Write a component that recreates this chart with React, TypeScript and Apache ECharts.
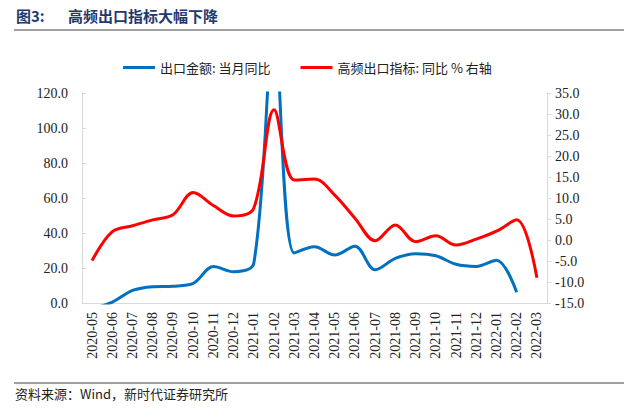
import React, { useEffect, useRef } from "react";
import * as echarts from "echarts";

const categories = [
  "2020-05", "2020-06", "2020-07", "2020-08", "2020-09", "2020-10", "2020-11", "2020-12",
  "2021-01", "2021-02", "2021-03", "2021-04", "2021-05", "2021-06", "2021-07", "2021-08",
  "2021-09", "2021-10", "2021-11", "2021-12", "2022-01", "2022-02", "2022-03",
];

const exportYoY: (number | null)[] = [
  -3.3, 0.5, 7.2, 9.3, 9.6, 11.2, 20.8, 17.9, 22.8, 154.9, 28.6, 32.2, 27.4, 32.4, 19.0,
  25.5, 28.2, 27.0, 22.1, 20.9, 24.5, 6.1, null,
];

const highFreqYoY = [
  -4.9, 2.0, 3.4, 4.8, 6.0, 11.3, 8.2, 5.7, 7.6, 31.0, 14.3, 14.5, 10.7, 5.2, -0.2, 3.6,
  -0.4, 1.0, -1.2, 0.2, 2.1, 4.8, -9.0,
];

const leftTicks = { min: 0, max: 120, interval: 20 };
const rightTicks = { min: -15, max: 35, interval: 5 };

const seriesNames = ["出口金额: 当月同比", "高频出口指标: 同比 % 右轴"];

export default function App() {
  const ref = useRef<HTMLDivElement>(null);
  useEffect(() => {
    if (!ref.current) return;
    const chart = echarts.init(ref.current, null, { renderer: "svg" });
    const serif = "Liberation Serif";
    chart.setOption({
      animation: false,
      backgroundColor: "#ffffff",
      graphic: [
        {
          type: "text",
          left: 16,
          top: 8,
          style: {
            text: "图3:",
            font: "bold 15px 'Noto Sans CJK SC', sans-serif",
            fill: "#1f3a6e",
          },
        },
        {
          type: "text",
          left: 68,
          top: 8,
          style: {
            text: "高频出口指标大幅下降",
            font: "bold 15px 'Noto Sans CJK SC', sans-serif",
            fill: "#1f3a6e",
          },
        },
        {
          type: "line",
          shape: { x1: 14, y1: 30, x2: 624, y2: 30 },
          style: { stroke: "#808080", lineWidth: 1.5 },
        },
        {
          type: "line",
          shape: { x1: 14, y1: 383, x2: 624, y2: 383 },
          style: { stroke: "#808080", lineWidth: 1.5 },
        },
        {
          type: "text",
          left: 15,
          top: 387,
          style: {
            text: "资料来源：Wind，新时代证券研究所",
            font: "13px 'Noto Sans CJK SC', sans-serif",
            fill: "#222",
          },
        },
      ],
      legend: {
        top: 56,
        left: 118,
        itemWidth: 32,
        itemHeight: 3,
        itemGap: 30,
        icon: "rect",
        textStyle: { fontFamily: "Noto Sans CJK SC", fontSize: 13, color: "#222" },
        data: seriesNames,
      },
      grid: { left: 82, right: 77, top: 93, bottom: 114, containLabel: false },
      xAxis: {
        type: "category",
        data: categories,
        boundaryGap: true,
        axisLine: { lineStyle: { color: "#d9d9d9" } },
        axisTick: { show: false },
        axisLabel: {
          rotate: 90,
          interval: 0,
          fontFamily: serif,
          fontSize: 14,
          color: "#222",
          margin: 9,
        },
      },
      yAxis: [
        {
          type: "value",
          min: leftTicks.min,
          max: leftTicks.max,
          interval: leftTicks.interval,
          axisLine: { show: true, lineStyle: { color: "#d9d9d9" } },
          axisTick: { show: true, inside: true, length: 4, lineStyle: { color: "#d9d9d9" } },
          splitLine: { show: false },
          axisLabel: {
            formatter: (v: number) => v.toFixed(1),
            fontFamily: serif,
            fontSize: 14,
            color: "#222",
            margin: 14,
          },
        },
        {
          type: "value",
          min: rightTicks.min,
          max: rightTicks.max,
          interval: rightTicks.interval,
          position: "right",
          axisLine: { show: true, lineStyle: { color: "#d9d9d9" } },
          axisTick: { show: true, length: 4, lineStyle: { color: "#d9d9d9" } },
          splitLine: { show: false },
          axisLabel: {
            formatter: (v: number) => v.toFixed(1),
            fontFamily: serif,
            fontSize: 14,
            color: "#222",
            margin: 8,
          },
        },
      ],
      series: [
        {
          name: seriesNames[0],
          type: "line",
          data: exportYoY,
          yAxisIndex: 0,
          smooth: 0.35,
          showSymbol: false,
          symbol: "none",
          clip: true,
          lineStyle: { color: "#0070c0", width: 3 },
          itemStyle: { color: "#0070c0" },
        },
        {
          name: seriesNames[1],
          type: "line",
          data: highFreqYoY,
          yAxisIndex: 1,
          smooth: 0.35,
          showSymbol: false,
          symbol: "none",
          clip: true,
          lineStyle: { color: "#ff0000", width: 3 },
          itemStyle: { color: "#ff0000" },
        },
      ],
    });
    return () => chart.dispose();
  }, []);
  return (
    <div
      ref={ref}
      style={{ position: "fixed", left: 0, top: 0, width: 624, height: 417, background: "#fff" }}
    />
  );
}
